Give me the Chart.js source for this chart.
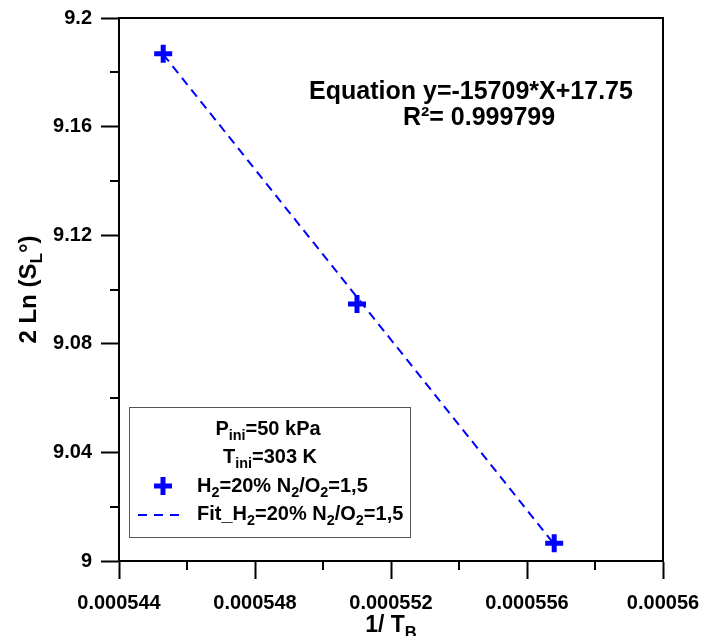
<!DOCTYPE html>
<html>
<head>
<meta charset="utf-8">
<script src="https://cdn.jsdelivr.net/npm/chart.js@4/dist/chart.umd.min.js"></script>
<style>
  body { margin: 0; background: #fff; }
  canvas { display: block; }
</style>
</head>
<body>
<canvas id="fitChart" width="702" height="636"></canvas>
<script>
// measured points: 1/T_B vs 2 Ln(S_L°)
const invTb = [0.0005453, 0.000551, 0.0005568];
const lnSl = [9.1868, 9.0947, 9.0065];

// linear fit end points
const fitInvTb = [0.0005453, 0.0005568];
const fitLnSl = [9.1866, 9.0062];

// axis ticks
const xTickValues = [0.000544, 0.000548, 0.000552, 0.000556, 0.00056];
const xTickLabels = ['0.000544', '0.000548', '0.000552', '0.000556', '0.00056'];
const xMinorTicks = [0.000546, 0.00055, 0.000554, 0.000558];
const yTickValues = [9, 9.04, 9.08, 9.12, 9.16, 9.2];
const yTickLabels = ['9', '9.04', '9.08', '9.12', '9.16', '9.2'];
const yMinorTicks = [9.02, 9.06, 9.1, 9.14, 9.18];

const FONT = "'Liberation Sans', Arial, sans-serif";
const BLUE = '#0000ff';

// text made of parts, some of them subscripts
function richWidth(ctx, parts, size) {
    let w = 0;
    parts.forEach(p => {
        ctx.font = 'bold ' + (p.sub ? size * 0.72 : size) + 'px ' + FONT;
        w += ctx.measureText(p.t).width;
    });
    return w;
}

function drawRich(ctx, parts, x, y, size, align) {
    let w = richWidth(ctx, parts, size);
    let cx = align === 'center' ? x - w / 2 : x;
    ctx.textAlign = 'left';
    ctx.textBaseline = 'alphabetic';
    parts.forEach(p => {
        let s = p.sub ? size * 0.72 : size;
        ctx.font = 'bold ' + s + 'px ' + FONT;
        ctx.fillText(p.t, cx, p.sub ? y + size * 0.25 : y);
        cx += ctx.measureText(p.t).width;
    });
}

const annotations = {
    id: 'annotations',
    afterDraw(chart) {
        const ctx = chart.ctx;
        const area = chart.chartArea;
        const xs = chart.scales.x;
        const ys = chart.scales.y;
        ctx.save();
        ctx.strokeStyle = '#000';
        ctx.lineWidth = 2;

        // frame
        ctx.strokeRect(area.left, area.top, area.right - area.left, area.bottom - area.top);

        // minor ticks
        ctx.beginPath();
        xMinorTicks.forEach(v => {
            const px = Math.round(xs.getPixelForValue(v));
            ctx.moveTo(px, area.bottom);
            ctx.lineTo(px, area.bottom + 9);
        });
        yMinorTicks.forEach(v => {
            const py = Math.round(ys.getPixelForValue(v));
            ctx.moveTo(area.left, py);
            ctx.lineTo(area.left - 9, py);
        });
        ctx.stroke();

        ctx.fillStyle = '#000';

        // equation
        ctx.font = 'bold 25px ' + FONT;
        ctx.textAlign = 'center';
        ctx.textBaseline = 'alphabetic';
        ctx.fillText('Equation y=-15709*X+17.75', 471, 99);
        ctx.fillText('R\u00b2= 0.999799', 479, 125);

        // axis titles
        const midX = (area.left + area.right) / 2;
        drawRich(ctx, [{ t: '1/ T' }, { t: 'B', sub: true }], midX, 632, 23, 'center');

        ctx.save();
        ctx.translate(36, (area.top + area.bottom) / 2);
        ctx.rotate(-Math.PI / 2);
        drawRich(ctx, [{ t: '2 Ln (S' }, { t: 'L', sub: true }, { t: '\u00b0)' }], 0, 0, 24, 'center');
        ctx.restore();

        // legend box
        ctx.lineWidth = 1;
        ctx.strokeStyle = '#555';
        ctx.strokeRect(129.5, 407.5, 281, 130);

        ctx.fillStyle = '#000';
        drawRich(ctx, [{ t: 'P' }, { t: 'ini', sub: true }, { t: '=50 kPa' }], 268, 435, 20, 'center');
        drawRich(ctx, [{ t: 'T' }, { t: 'ini', sub: true }, { t: '=303 K' }], 270, 463, 20, 'center');
        const mix = [{ t: 'H' }, { t: '2', sub: true }, { t: '=20% N' }, { t: '2', sub: true },
                     { t: '/O' }, { t: '2', sub: true }, { t: '=1,5' }];
        drawRich(ctx, mix, 197, 492, 20, 'left');
        drawRich(ctx, [{ t: 'Fit_' }].concat(mix), 197, 520, 20, 'left');

        // legend symbols
        ctx.strokeStyle = BLUE;
        ctx.lineWidth = 5;
        ctx.beginPath();
        ctx.moveTo(154, 486); ctx.lineTo(172, 486);
        ctx.moveTo(163, 477); ctx.lineTo(163, 495);
        ctx.stroke();

        ctx.lineWidth = 2;
        ctx.setLineDash([9, 7]);
        ctx.beginPath();
        ctx.moveTo(138, 515); ctx.lineTo(186, 515);
        ctx.stroke();

        ctx.restore();
    }
};

new Chart(document.getElementById('fitChart'), {
    type: 'scatter',
    data: {
        datasets: [
            {
                label: 'H2=20% N2/O2=1,5',
                data: invTb.map((x, i) => ({ x: x, y: lnSl[i] })),
                pointStyle: 'cross',
                pointRadius: 9,
                pointHoverRadius: 9,
                borderWidth: 5,
                borderColor: BLUE,
                backgroundColor: BLUE,
                order: 0
            },
            {
                label: 'Fit_H2=20% N2/O2=1,5',
                type: 'line',
                data: fitInvTb.map((x, i) => ({ x: x, y: fitLnSl[i] })),
                borderColor: BLUE,
                borderWidth: 2,
                borderDash: [9, 6],
                pointRadius: 0,
                fill: false,
                order: 1
            }
        ]
    },
    options: {
        responsive: false,
        animation: false,
        devicePixelRatio: 1,
        layout: { padding: { top: 18, right: 39, left: 0, bottom: 0 } },
        plugins: {
            legend: { display: false },
            tooltip: { enabled: false }
        },
        scales: {
            x: {
                type: 'linear',
                min: 0.000544,
                max: 0.00056,
                afterFit: s => { s.height = 75; s.paddingLeft = 0; s.paddingRight = 0; },
                afterBuildTicks: s => { s.ticks = xTickValues.map(v => ({ value: v })); },
                ticks: {
                    callback: (v, i) => xTickLabels[i],
                    color: '#000',
                    padding: 12,
                    maxRotation: 0,
                    font: { family: FONT, size: 20, weight: 'bold' }
                },
                grid: { drawOnChartArea: false, tickLength: 18, tickWidth: 2, tickColor: '#000' },
                border: { display: true, color: '#000', width: 2 }
            },
            y: {
                type: 'linear',
                min: 9,
                max: 9.2,
                afterFit: s => { s.width = 119; s.paddingTop = 0; s.paddingBottom = 0; },
                afterBuildTicks: s => { s.ticks = yTickValues.map(v => ({ value: v })); },
                ticks: {
                    callback: (v, i) => yTickLabels[i],
                    color: '#000',
                    padding: 9,
                    font: { family: FONT, size: 20, weight: 'bold' }
                },
                grid: { drawOnChartArea: false, tickLength: 18, tickWidth: 2, tickColor: '#000' },
                border: { display: true, color: '#000', width: 2 }
            }
        }
    },
    plugins: [annotations]
});
</script>
</body>
</html>
